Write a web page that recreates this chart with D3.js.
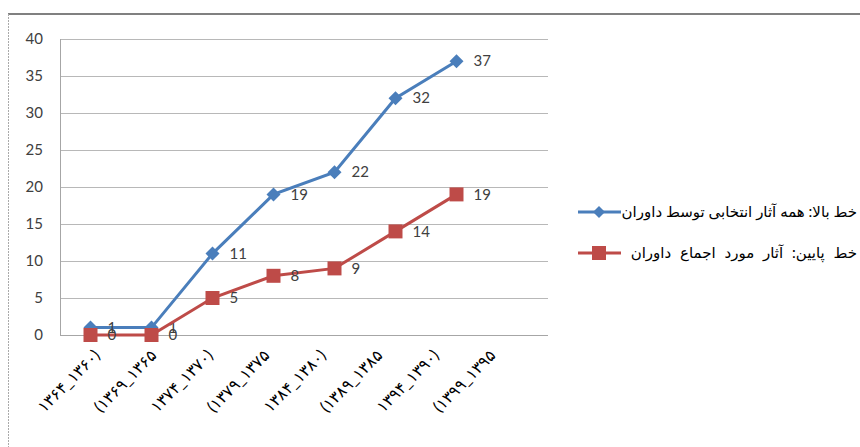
<!DOCTYPE html>
<html>
<head>
<meta charset="utf-8">
<script src="https://cdn.jsdelivr.net/npm/d3@7"></script>
<style>
  body { margin: 0; background: #fff; }
  text { font-family: Lato, "DejaVu Sans", sans-serif; }
</style>
</head>
<body>
<div class="chart"></div>
<script>
const categories = ['c1', 'c2', 'c3', 'c4', 'c5', 'c6', 'c7', 'c8'];
const tickLabels = [
    '۱۳۶۴_۱۳۶۰)', '(۱۳۶۹_۱۳۶۵', '۱۳۷۴_۱۳۷۰)', '(۱۳۷۹_۱۳۷۵',
    '۱۳۸۴_۱۳۸۰)', '(۱۳۸۹_۱۳۸۵', '۱۳۹۴_۱۳۹۰)', '(۱۳۹۹_۱۳۹۵'
];
const allWorks = [1, 1, 11, 19, 22, 32, 37];
const agreedWorks = [0, 0, 5, 8, 9, 14, 19];
const seriesNames = [
    'خط بالا: همه آثار انتخابی توسط داوران',
    'خط پایین: آثار مورد اجماع داوران'
];
const colors = ['#4a7ebb', '#be4b48'];

const W = 860, H = 447;
const plot = {left: 60, right: 548, top: 39, bottom: 335};

const svg = d3.select('.chart')
    .append('svg')
    .attr('width', W)
    .attr('height', H);

// outer frame
svg.append('line')
    .attr('x1', 8).attr('x2', W).attr('y1', 14).attr('y2', 14)
    .attr('stroke', '#808080').attr('stroke-width', 2);
svg.append('line')
    .attr('x1', 8.5).attr('x2', 8.5).attr('y1', 14).attr('y2', H)
    .attr('stroke', '#aaa').attr('stroke-dasharray', '2,1');

const xScale = d3.scaleBand()
    .domain(categories)
    .range([plot.left, plot.right]);
const cx = c => xScale(c) + xScale.bandwidth() / 2;

const yScale = d3.scaleLinear()
    .domain([0, 40])
    .range([plot.bottom, plot.top]);

// gridlines + y labels
const y_axis = d3.axisLeft(yScale)
    .tickValues(d3.range(0, 41, 5))
    .tickSize(-(plot.right - plot.left))
    .tickPadding(17);

const y_container = svg.append('g')
    .attr('transform', `translate(${plot.left},0)`)
    .call(y_axis);
y_container.select('.domain').remove();
y_container.selectAll('.tick line').attr('stroke', '#b8b8b8');
y_container.selectAll('.tick text')
    .attr('font-size', 15)
    .attr('fill', '#404040')
    .attr('font-family', 'Lato, sans-serif');

svg.append('line')
    .attr('x1', plot.left + 0.5).attr('x2', plot.left + 0.5)
    .attr('y1', plot.top).attr('y2', plot.bottom)
    .attr('stroke', '#a6a6a6');
svg.append('line')
    .attr('x1', plot.left).attr('x2', plot.right)
    .attr('y1', plot.bottom + 0.5).attr('y2', plot.bottom + 0.5)
    .attr('stroke', '#a6a6a6');

// x labels, rotated (they sit a bit tighter than the points)
const labelScale = d3.scalePoint()
    .domain(categories)
    .range([cx(categories[0]) + 2, cx(categories[0]) + 2 + 7 * 56.5]);

svg.append('g')
    .selectAll('text')
    .data(categories)
    .enter()
    .append('text')
    .attr('transform', d => `translate(${labelScale(d)},348) rotate(-45)`)
    .attr('text-anchor', 'end')
    .attr('dy', '0.75em')
    .attr('font-size', 16)
    .attr('letter-spacing', 1.5)
    .attr('font-family', '"DejaVu Sans", sans-serif')
    .attr('fill', '#000')
    .text((d, i) => tickLabels[i]);

const series = [allWorks, agreedWorks];
const line = d3.line()
    .x((d, i) => cx(categories[i]))
    .y(d => yScale(d));

series.forEach((values, s) => {
    const g = svg.append('g');
    g.append('path')
        .datum(values)
        .attr('d', line)
        .attr('fill', 'none')
        .attr('stroke', colors[s])
        .attr('stroke-width', 3);

    g.selectAll('.marker')
        .data(values)
        .enter()
        .append('path')
        .attr('class', 'marker')
        .attr('transform', (d, i) => `translate(${cx(categories[i])},${yScale(d)})`)
        .attr('d', s == 0 ? 'M0,-7L7,0L0,7L-7,0Z' : 'M-7,-7H7V7H-7Z')
        .attr('fill', colors[s]);

    g.selectAll('.label')
        .data(values)
        .enter()
        .append('text')
        .attr('x', (d, i) => cx(categories[i]) + 17)
        .attr('y', d => yScale(d))
        .attr('dy', '0.35em')
        .attr('font-size', 15)
        .attr('fill', '#404040')
        .text(d => d);
});

// legend
const legendY = [212, 253];
const legendSpacing = [0, 5];
seriesNames.forEach((name, s) => {
    const g = svg.append('g')
        .attr('transform', `translate(0,${legendY[s]})`);
    g.append('line')
        .attr('x1', 578).attr('x2', 621)
        .attr('stroke', colors[s]).attr('stroke-width', 3);
    g.append('path')
        .attr('transform', 'translate(599,0)')
        .attr('d', s == 0 ? 'M0,-6L6,0L0,6L-6,0Z' : 'M-7,-7H7V7H-7Z')
        .attr('fill', colors[s]);
    g.append('text')
        .attr('x', 857)
        .attr('dy', '0.35em')
        .attr('text-anchor', 'end')
        .attr('font-size', 15)
        .attr('word-spacing', legendSpacing[s])
        .attr('font-family', '"DejaVu Sans", sans-serif')
        .attr('fill', '#000')
        .text(name);
});
</script>
</body>
</html>
